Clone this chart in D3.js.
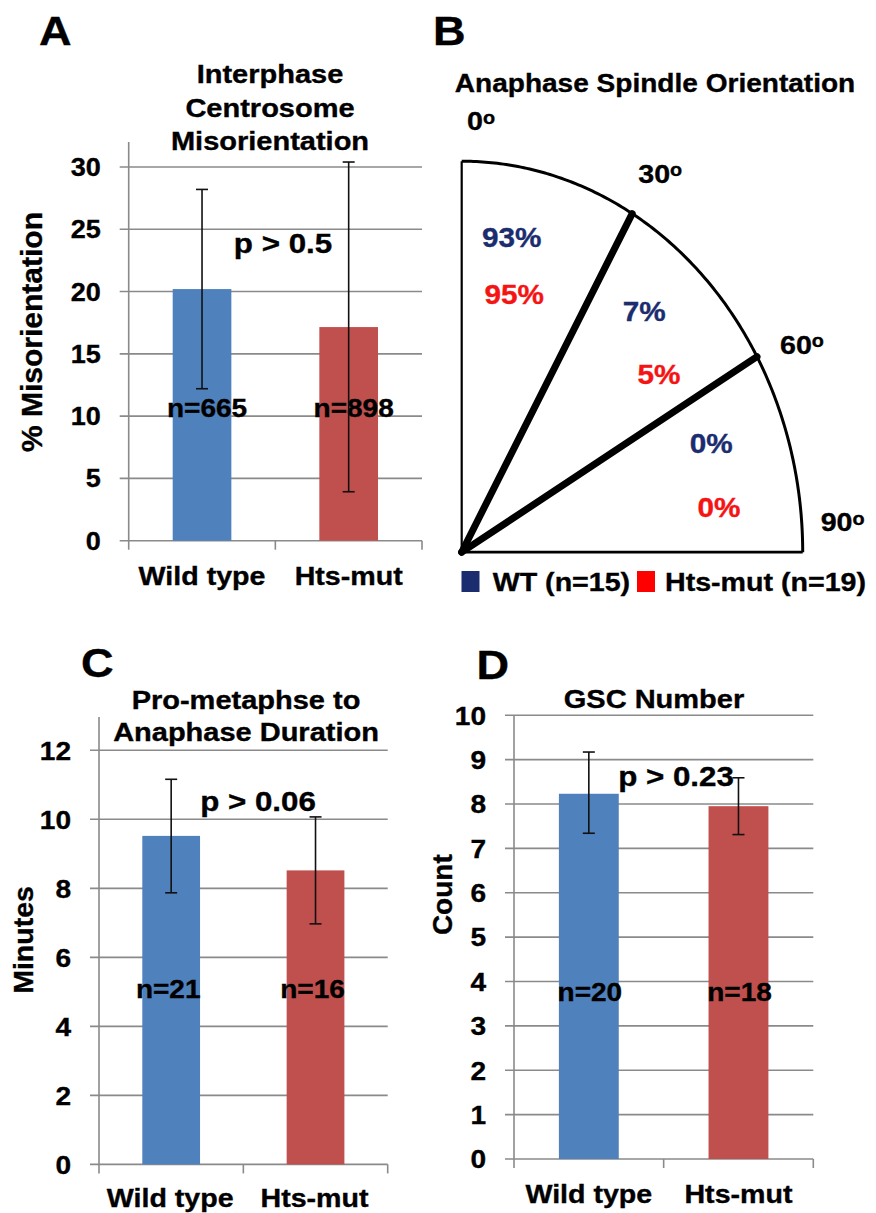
<!DOCTYPE html>
<html>
<head>
<meta charset="utf-8">
<script src="https://cdn.jsdelivr.net/npm/d3@7"></script>
<style>
  html, body { margin: 0; padding: 0; background: #ffffff; }
  svg { display: block; }
  text { font-family: "Liberation Sans", Arial, "DejaVu Sans", sans-serif; font-weight: bold; fill: #000; stroke-width: 0.35px; }
</style>
</head>
<body>
<svg id="fig" width="876" height="1213"></svg>
<script>
// ---------------- DATA ----------------
const categories = ["Wild type", "Hts-mut"];

// Panel A: Interphase centrosome misorientation (%)
const misValues  = [20.2, 17.15];
const misErrHigh = [28.2, 30.4];
const misErrLow  = [12.2, 3.93];
const misN       = ["n=665", "n=898"];
const misTicks   = [0, 5, 10, 15, 20, 25, 30];
const misP       = "p > 0.5";

// Panel B: Anaphase spindle orientation
const sectorBounds = [0, 30, 60, 90];
const wtPct        = [93, 7, 0];
const htsPct       = [95, 5, 0];
const legendLabels = ["WT (n=15)", "Hts-mut (n=19)"];

// Panel C: Pro-metaphase to anaphase duration (minutes)
const durValues  = [9.52, 8.52];
const durErrHigh = [11.16, 10.07];
const durErrLow  = [7.87, 6.97];
const durN       = ["n=21", "n=16"];
const durTicks   = [0, 2, 4, 6, 8, 10, 12];
const durP       = "p > 0.06";

// Panel D: GSC number (count)
const gscValues  = [8.23, 7.95];
const gscErrHigh = [9.17, 8.59];
const gscErrLow  = [7.34, 7.31];
const gscN       = ["n=20", "n=18"];
const gscTicks   = [0, 1, 2, 3, 4, 5, 6, 7, 8, 9, 10];
const gscP       = "p > 0.23";

// ---------------- STYLE ----------------
const BLUE = "#4f81bd", RED = "#c0504d";
const NAVY = "#1b2d6e", BRIGHT_RED = "#f51414";
const GRID = "#8a8a8a";

const svg = d3.select("#fig");

function T(parent, str, x, y, size, opts = {}) {
  const k = opts.k ?? 1.12;
  const col = opts.fill || "#000";
  const t = parent.append("text")
    .attr("transform", opts.rotate
      ? `translate(${x},${y}) rotate(-90)`
      : `translate(${x},${y}) scale(${k},1)`)
    .attr("text-anchor", opts.anchor || "middle")
    .style("font-size", size + "px")
    .style("fill", col).style("stroke", col);
  t.text(str);
  return t;
}

// ---------------- BAR PANEL ----------------
function barPanel(cfg) {
  const g = svg.append("g");
  const x = d3.scaleBand().domain(categories).range([cfg.x0, cfg.x1])
    .paddingInner(0.6).paddingOuter(0.3);
  const y = d3.scaleLinear().domain([0, d3.max(cfg.ticks)]).range([cfg.y0, cfg.yTop]);

  // gridlines (including baseline)
  g.selectAll("line.grid").data(cfg.ticks).join("line")
    .attr("x1", cfg.x0 - 9).attr("x2", cfg.x1)
    .attr("y1", d => y(d)).attr("y2", d => y(d))
    .attr("stroke", GRID).attr("stroke-width", 1.6);
  // y axis line
  g.append("line").attr("x1", cfg.x0).attr("x2", cfg.x0)
    .attr("y1", cfg.axisTop).attr("y2", cfg.y0)
    .attr("stroke", GRID).attr("stroke-width", 1.6);
  // category tick marks
  const bounds = [cfg.x0, cfg.x0 + x.step(), cfg.x1];
  g.selectAll("line.xt").data(bounds).join("line")
    .attr("x1", d => d).attr("x2", d => d)
    .attr("y1", cfg.y0).attr("y2", cfg.y0 + 9)
    .attr("stroke", GRID).attr("stroke-width", 1.6);

  // bars
  g.selectAll("rect.bar").data(cfg.values).join("rect")
    .attr("x", (d, i) => x(categories[i]))
    .attr("width", x.bandwidth())
    .attr("y", d => y(d))
    .attr("height", d => cfg.y0 - y(d))
    .attr("fill", (d, i) => i === 0 ? BLUE : RED);

  // n labels
  cfg.nLabels.forEach((s, i) => {
    T(g, s, x(categories[i]) + x.bandwidth() / 2 + cfg.nShift, cfg.nY, cfg.nSize);
  });

  // error bars
  cfg.values.forEach((v, i) => {
    const cx = x(categories[i]) + x.bandwidth() / 2;
    const hi = y(cfg.errHigh[i]), lo = y(cfg.errLow[i]);
    g.append("line").attr("x1", cx).attr("x2", cx).attr("y1", hi).attr("y2", lo)
      .attr("stroke", "#111").attr("stroke-width", 1.6);
    [hi, lo].forEach(yy => g.append("line")
      .attr("x1", cx - 6).attr("x2", cx + 6).attr("y1", yy).attr("y2", yy)
      .attr("stroke", "#111").attr("stroke-width", 1.6));
  });

  // y tick labels
  cfg.ticks.forEach(t => {
    T(g, String(t), cfg.x0 - 28, y(t) + cfg.tickSize * 0.36, cfg.tickSize, { anchor: "end", k: 1.08 });
  });

  // x labels
  categories.forEach(c => {
    T(g, c, x(c) + x.bandwidth() / 2 + cfg.catShift, cfg.catY, 26, { k: 1.1 });
  });

  // y axis title
  T(g, cfg.yTitle, cfg.yTitleX, cfg.yTitleY, cfg.yTitleSize, { rotate: true });

  // chart title lines
  cfg.title.forEach((s, i) => T(g, s, cfg.titleX, cfg.titleY[i], 25, { k: 1.16 }));

  // p-value
  T(g, cfg.p, cfg.pX, cfg.pY, 27, { k: 1.16 });

  // panel letter
  T(g, cfg.letter, cfg.letterX, cfg.letterY, 41, { anchor: "start", k: 1.1 });
}

barPanel({
  letter: "A", letterX: 39, letterY: 45,
  x0: 128.7, x1: 422, y0: 540.7, yTop: 167, axisTop: 142,
  ticks: misTicks, values: misValues, errHigh: misErrHigh, errLow: misErrLow,
  nLabels: misN, nY: 416.5, nShift: 5, nSize: 25,
  tickSize: 25, catY: 585, catShift: 0,
  yTitle: "% Misorientation", yTitleX: 41.5, yTitleY: 332, yTitleSize: 30,
  title: ["Interphase", "Centrosome", "Misorientation"], titleX: 270, titleY: [83.3, 116.5, 150.2],
  p: misP, pX: 283, pY: 253
});

barPanel({
  letter: "C", letterX: 81, letterY: 677,
  x0: 99, x1: 387.7, y0: 1164.4, yTop: 750.3, axisTop: 717,
  ticks: durTicks, values: durValues, errHigh: durErrHigh, errLow: durErrLow,
  nLabels: durN, nY: 997.6, nShift: -3, nSize: 25,
  tickSize: 26, catY: 1207, catShift: -1,
  yTitle: "Minutes", yTitleX: 33, yTitleY: 940, yTitleSize: 28.5,
  title: ["Pro-metaphse to", "Anaphase Duration"], titleX: 246, titleY: [708.7, 740.8],
  p: durP, pX: 258, pY: 810.7
});

barPanel({
  letter: "D", letterX: 476.5, letterY: 678.5,
  x0: 514, x1: 813.3, y0: 1159, yTop: 715.2, axisTop: 715.2,
  ticks: gscTicks, values: gscValues, errHigh: gscErrHigh, errLow: gscErrLow,
  nLabels: gscN, nY: 1001.4, nShift: 1, nSize: 25,
  tickSize: 26, catY: 1203.3, catShift: 0,
  yTitle: "Count", yTitleX: 451.5, yTitleY: 894.7, yTitleSize: 28,
  title: ["GSC Number"], titleX: 654, titleY: [707.6],
  p: gscP, pX: 676, pY: 786.2
});

// ---------------- PANEL B ----------------
(function () {
  const g = svg.append("g");
  const cx = 461.7, cy = 552.2, rx = 341, ry = 391;
  const ang = d3.scaleLinear().domain([0, 90]).range([0, Math.PI / 2]);
  const pt = (deg, r = 1) => [cx + rx * r * Math.sin(ang(deg)), cy - ry * r * Math.cos(ang(deg))];

  // outline: left edge, arc, bottom edge
  g.append("line").attr("x1", cx).attr("y1", cy).attr("x2", pt(0)[0]).attr("y2", pt(0)[1])
    .attr("stroke", "#000").attr("stroke-width", 2.2);
  g.append("line").attr("x1", cx).attr("y1", cy).attr("x2", pt(90)[0]).attr("y2", pt(90)[1])
    .attr("stroke", "#000").attr("stroke-width", 2.8);
  const arcPts = d3.range(0, 90.25, 0.5).map(d => pt(d));
  g.append("path").attr("d", d3.line()(arcPts))
    .attr("fill", "none").attr("stroke", "#000").attr("stroke-width", 3);

  // inner sector boundaries (thick)
  sectorBounds.slice(1, -1).forEach(b => {
    const p = pt(b);
    g.append("line").attr("x1", cx).attr("y1", cy).attr("x2", p[0]).attr("y2", p[1])
      .attr("stroke", "#000").attr("stroke-width", 7).attr("stroke-linecap", "round");
  });

  // degree labels
  const degPos = [[467, 130], [638.3, 182.7], [780, 353.5], [820.7, 531.2]];
  sectorBounds.forEach((b, i) => {
    const t = g.append("text")
      .attr("transform", `translate(${degPos[i][0]},${degPos[i][1]}) scale(1.1,1)`)
      .attr("text-anchor", "start").style("font-size", "26px").style("stroke", "#000");
    t.append("tspan").text(String(b));
    t.append("tspan").attr("dy", -6.5).style("font-size", "18px").text("o");
  });

  // percentage labels placed in polar layout (angle, radius fraction)
  const wtPos  = [[10.3, 0.82], [40.9, 0.817], [69.1, 0.783]];
  const htsPos = [[13.1, 0.678], [51.8, 0.736], [81.3, 0.763]];
  wtPct.forEach((v, i) => {
    const p = pt(wtPos[i][0], wtPos[i][1]);
    T(g, v + "%", p[0], p[1] + 10, 27, { fill: NAVY, k: 1.1 });
  });
  htsPct.forEach((v, i) => {
    const p = pt(htsPos[i][0], htsPos[i][1]);
    T(g, v + "%", p[0], p[1] + 10, 27, { fill: BRIGHT_RED, k: 1.1 });
  });

  // title and letter
  T(g, "Anaphase Spindle Orientation", 655, 91.7, 25.5, { k: 1.1 });
  T(g, "B", 433, 45, 41, { anchor: "start", k: 1.1 });

  // legend
  const leg = [[461.5, NAVY, 492.7], [637, "#ff0000", 665]];
  legendLabels.forEach((s, i) => {
    g.append("rect").attr("x", leg[i][0]).attr("y", 571).attr("width", 18).attr("height", 21)
      .attr("fill", leg[i][1]);
    T(g, s, leg[i][2], 591, 26, { anchor: "start", k: 1.1 });
  });
})();
</script>
</body>
</html>
